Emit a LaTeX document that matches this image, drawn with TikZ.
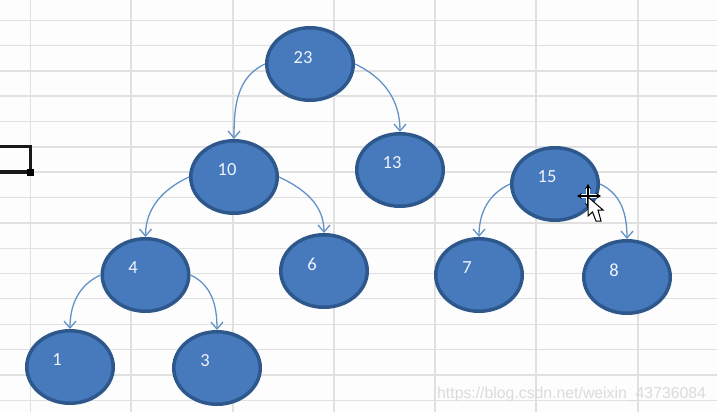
\documentclass[tikz,border=0pt]{standalone}
\usepackage{fontspec}
\usepackage{xcolor}
\setmainfont{Carlito}
\newfontfamily\markfont{Liberation Sans}
\usetikzlibrary{arrows.meta, shapes.geometric}
\definecolor{cellbg}{RGB}{253, 253, 253}
\definecolor{gridline}{RGB}{224, 224, 224}
\definecolor{nodefill}{RGB}{70, 122, 189}
\definecolor{nodeedge}{RGB}{46, 88, 140}
\definecolor{linkblue}{RGB}{100, 146, 200}

\begin{document}
\begin{tikzpicture}[
    x=1pt, y=-1pt,
    treenode/.style={draw=nodeedge, line width=3.5pt, fill=nodefill, ellipse, minimum width=86.5pt, minimum height=72.5pt, inner sep=0pt},
    num/.style={text=white!92!nodefill, inner sep=0pt, font=\fontsize{18.5}{20}\selectfont},
    link/.style={-{Straight Barb[length=7pt, width=12pt]}, linkblue, line width=1.3pt},
    sheetline/.style={gridline, line width=1.3pt},
    watermark/.style={text=gray!28, inner sep=0pt, font=\fontsize{15.8}{20}\markfont}
]
\useasboundingbox[fill=cellbg] (0,0) rectangle (717,412);

% sheet
\foreach \gx in {30.5,131,233,334,435,536,638}
    \draw[sheetline] (\gx,0) -- (\gx,412);
\foreach \gy in {20.5,45.5,71,96,121.5,147,172,197.5,223,248.3,273.3,298.7,324.3,349.7,375,400.7}
    \draw[sheetline] (0,\gy) -- (717,\gy);

% selected cell
\draw[black!90, line width=3.6pt] (0,146.5) -- (30.5,146.5) -- (30.5,172) -- (0,172);
\fill[black] (26.5,168.5) rectangle (33.5,175.5);

\node[treenode] (n23) at (310,64) {};
\node[treenode] (n10) at (234,177) {};
\node[treenode] (n13) at (400,170) {};
\node[treenode] (n15) at (555,184) {};
\node[treenode] (n4) at (145.5,275) {};
\node[treenode] (n6) at (324,271) {};
\node[treenode] (n7) at (479,275) {};
\node[treenode] (n8) at (627,277) {};
\node[treenode] (n1) at (70,367) {};
\node[treenode] (n3) at (217,368) {};

\node[num] (t23) at (303,58) {23};
\node[num] (t10) at (227,170) {10};
\node[num] (t13) at (392,163) {13};
\node[num] (t15) at (547,177) {15};
\node[num] (t4) at (133,268) {4};
\node[num] (t6) at (312,264) {6};
\node[num] (t7) at (467,268) {7};
\node[num] (t8) at (614,270) {8};
\node[num] (t1) at (57,360) {1};
\node[num] (t3) at (205,361) {3};

\draw[link] (n23.west) to[out=205, in=90] (n10.north);
\draw[link] (n23.east) to[out=-25, in=90] (n13.north);
\draw[link] (n10.west) to[out=205, in=90] (n4.north);
\draw[link] (n10.east) to[out=-25, in=90] (n6.north);
\draw[link] (n4.west) to[out=205, in=90] (n1.north);
\draw[link] (n4.east) to[out=-25, in=90] (n3.north);
\draw[link] (n15.west) to[out=205, in=90] (n7.north);
\draw[link] (n15.east) to[out=-25, in=90] (n8.north);

% mouse pointer
\draw[white, line width=3.5pt] (579,196) -- (599,196) (588,186) -- (588,206);
\draw[black, line width=1.8pt, {Stealth[length=5pt, width=6pt]}-{Stealth[length=5pt, width=6pt]}] (577,196) -- (601,196);
\draw[black, line width=1.8pt, {Stealth[length=5pt, width=6pt]}-{Stealth[length=5pt, width=6pt]}] (588,184) -- (588,208);
\draw[black, fill=white, line width=1pt] (588,197) -- (588,216) -- (592.5,212) -- (596,221) -- (601,221) -- (598,210) -- (603,210) -- cycle;

\node[watermark, anchor=west] (mark) at (437,394) {https://blog.csdn.net/weixin\_43736084};

\end{tikzpicture}
\end{document}
